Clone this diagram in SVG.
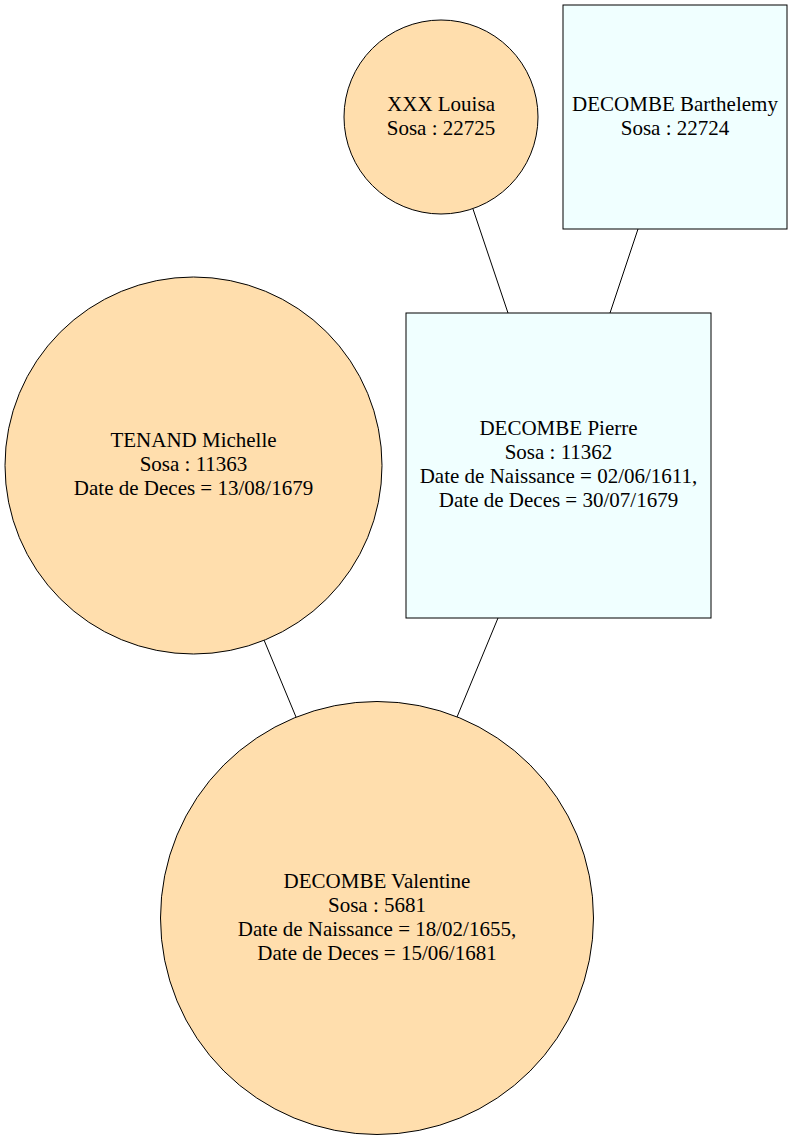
<svg xmlns="http://www.w3.org/2000/svg" width="793" height="1140" viewBox="0 0 793 1140">
<style>
.f{fill:#FFDEAD;stroke:#000;stroke-width:1}
.m{fill:#F0FFFF;stroke:#000;stroke-width:1}
text{font-family:"Liberation Serif","Times New Roman",serif;font-size:21px;text-anchor:middle;fill:#000}
.e{stroke:#000;stroke-width:1;fill:none}
</style>
<rect width="793" height="1140" fill="#fff"/>
<g id="edges">
<line class="e" x1="473" y1="209" x2="508" y2="313"/>
<line class="e" x1="638" y1="229" x2="610" y2="313"/>
<line class="e" x1="264" y1="640" x2="296" y2="717"/>
<line class="e" x1="498" y1="618" x2="457" y2="717"/>
</g>
<g id="louisa">
<circle class="f" cx="441" cy="117" r="97"/>
<text x="441" y="110.5">XXX Louisa</text>
<text x="441" y="134.5">Sosa : 22725</text>
</g>
<g id="barthelemy">
<rect class="m" x="563" y="5" width="224" height="224"/>
<text x="675" y="110.5">DECOMBE Barthelemy</text>
<text x="675" y="134.5">Sosa : 22724</text>
</g>
<g id="michelle">
<circle class="f" cx="193.5" cy="465.5" r="188.5"/>
<text x="193.5" y="447">TENAND Michelle</text>
<text x="193.5" y="471">Sosa : 11363</text>
<text x="193.5" y="495">Date de Deces = 13/08/1679</text>
</g>
<g id="pierre">
<rect class="m" x="406" y="313" width="305" height="305"/>
<text x="558.5" y="435">DECOMBE Pierre</text>
<text x="558.5" y="459">Sosa : 11362</text>
<text x="558.5" y="483">Date de Naissance = 02/06/1611,</text>
<text x="558.5" y="507">Date de Deces = 30/07/1679</text>
</g>
<g id="valentine">
<circle class="f" cx="377" cy="918" r="216.5"/>
<text x="377" y="887.5">DECOMBE Valentine</text>
<text x="377" y="911.5">Sosa : 5681</text>
<text x="377" y="935.5">Date de Naissance = 18/02/1655,</text>
<text x="377" y="959.5">Date de Deces = 15/06/1681</text>
</g>
</svg>
